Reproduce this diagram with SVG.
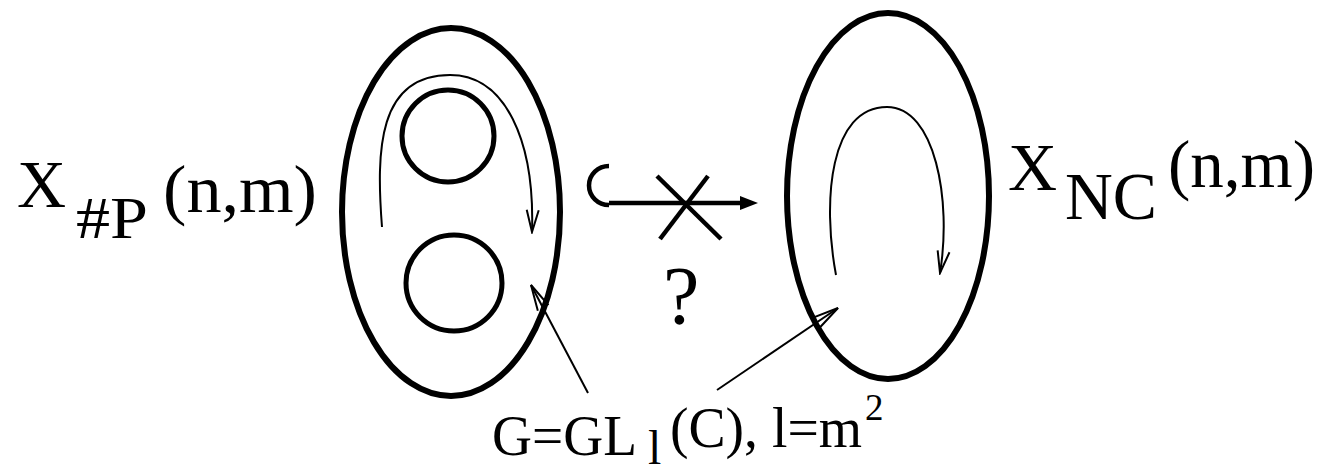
<svg xmlns="http://www.w3.org/2000/svg" width="1323" height="476" viewBox="0 0 1323 476">
<defs>
<style>
.t{font-family:"Liberation Serif","Times New Roman",serif;fill:#000}
.thick{fill:none;stroke:#000;stroke-width:6}
.mid{fill:none;stroke:#000;stroke-width:5}
.thin{fill:none;stroke:#000;stroke-width:2}
.bold{fill:none;stroke:#000;stroke-width:4.5}
</style>
<marker id="openV" viewBox="-30 -8 32 16" refX="0" refY="0" markerWidth="32" markerHeight="16" markerUnits="userSpaceOnUse" orient="auto">
<path d="M-26,-6 L0,0 L-26,6" fill="none" stroke="#000" stroke-width="2"/>
</marker>
<marker id="openS" viewBox="-26 -8 28 16" refX="0" refY="0" markerWidth="28" markerHeight="16" markerUnits="userSpaceOnUse" orient="auto">
<path d="M-22,-6 L0,0 L-22,6" fill="none" stroke="#000" stroke-width="2"/>
</marker>
</defs>
<rect width="1323" height="476" fill="#fff"/>

<g id="left-space">
<ellipse class="thick" cx="451" cy="212" rx="109" ry="184"/>
<circle class="mid" cx="448" cy="136" r="46"/>
<ellipse class="mid" cx="454" cy="283" rx="48" ry="48"/>
<path class="thin" d="M382,227 C376,150 378,75 450,75 C505,75 535,140 532,232" marker-end="url(#openS)"/>
</g>

<g id="right-space">
<ellipse class="thick" cx="888" cy="196" rx="101" ry="183"/>
<path class="thin" d="M836,275 C822,200 830,107 887,107 C935,107 952,200 940,273" marker-end="url(#openS)"/>
</g>

<g id="label-left">
<text class="t" x="17" y="207" font-size="68">X</text>
<text class="t" x="76" y="238" font-size="60" textLength="72" lengthAdjust="spacingAndGlyphs">#P</text>
<text class="t" x="163" y="212" font-size="68" textLength="154" lengthAdjust="spacingAndGlyphs">(n,m)</text>
</g>

<g id="label-right">
<text class="t" x="1008" y="190" font-size="68">X</text>
<text class="t" x="1065" y="219" font-size="68" textLength="92" lengthAdjust="spacingAndGlyphs">NC</text>
<text class="t" x="1168" y="187" font-size="67" textLength="147" lengthAdjust="spacingAndGlyphs">(n,m)</text>
</g>

<g id="label-group">
<text class="t" x="492" y="455" font-size="56" textLength="145" lengthAdjust="spacingAndGlyphs">G=GL</text>
<text class="t" x="648" y="464" font-size="48">l</text>
<text class="t" x="670" y="447" font-size="56" textLength="192" lengthAdjust="spacingAndGlyphs">(C), l=m</text>
<text class="t" x="865" y="420" font-size="37">2</text>
</g>

<g id="label-question">
<text class="t" x="663" y="323" font-size="82">?</text>
</g>

<g id="connectors">
<path class="bold" d="M609,166 A20,19.5 0 0 0 609,205"/>
<line class="bold" x1="609" y1="203" x2="742" y2="203"/>
<path d="M740,196 L758,203 L740,210 Z" fill="#000"/>
<line class="bold" x1="657" y1="176" x2="721" y2="239"/>
<line class="bold" x1="708" y1="176" x2="660" y2="239"/>
<line class="thin" x1="588" y1="393" x2="531" y2="285" marker-end="url(#openV)"/>
<line class="thin" x1="717" y1="390" x2="838" y2="308" marker-end="url(#openV)"/>
</g>
</svg>
